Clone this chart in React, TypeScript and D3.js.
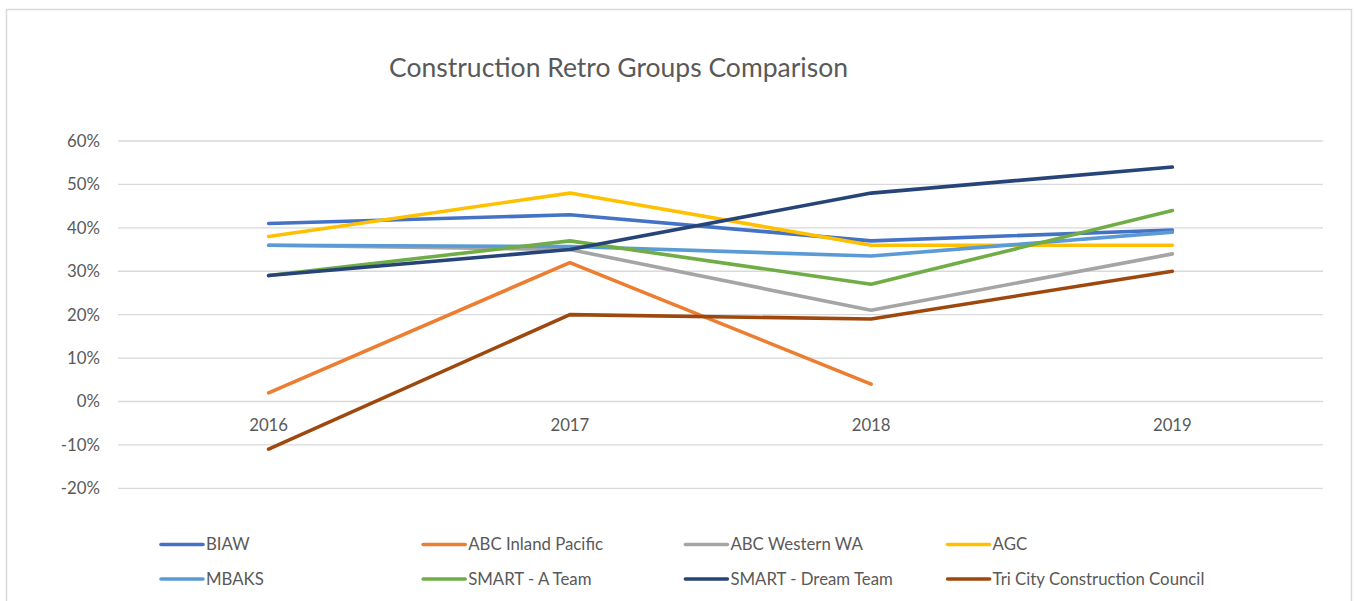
import React from "react";
import * as d3 from "d3";

const years = ["2016", "2017", "2018", "2019"];
const yTicks = [-0.2, -0.1, 0, 0.1, 0.2, 0.3, 0.4, 0.5, 0.6];

const seriesNames = [
  "BIAW",
  "ABC Inland Pacific",
  "ABC Western WA",
  "AGC",
  "MBAKS",
  "SMART - A Team",
  "SMART - Dream Team",
  "Tri City Construction Council",
];
const biaw = [0.41, 0.43, 0.37, 0.395];
const abcInland: (number | null)[] = [0.02, 0.32, 0.04, null];
const abcWestern = [0.36, 0.35, 0.21, 0.34];
const agc = [0.38, 0.48, 0.36, 0.36];
const mbaks = [0.36, 0.357, 0.335, 0.39];
const smartA = [0.29, 0.37, 0.27, 0.44];
const smartDream = [0.29, 0.35, 0.48, 0.54];
const triCity = [-0.11, 0.2, 0.19, 0.3];
const seriesValues = [biaw, abcInland, abcWestern, agc, mbaks, smartA, smartDream, triCity];
const seriesColors = ["#4472C4", "#ED7D31", "#A5A5A5", "#FFC000", "#5B9BD5", "#70AD47", "#264478", "#9E480E"];

const W = 1354;
const H = 601;
const FONT = "Lato, 'Open Sans', sans-serif";
const TEXT = "#595959";
const FS = 16.8;

export default function App() {
  const x = d3.scaleBand<string>().domain(years).range([118, 1323]);
  const y = d3.scaleLinear().domain([-0.2, 0.6]).range([488.3, 141]);
  const cx = (yr: string) => (x(yr) ?? 0) + x.bandwidth() / 2;
  const line = d3
    .line<number | null>()
    .defined((d) => d !== null)
    .x((_, i) => cx(years[i]))
    .y((d) => y(d as number));
  const fmt = d3.formatLocale({ decimal: ".", thousands: ",", grouping: [3], currency: ["$", ""], minus: "-" }).format(".0%");

  return (
    <svg width={W} height={H} style={{ position: "absolute", left: 0, top: 0, background: "#fff" }}>
      <rect x={6.5} y={9.5} width={1345} height={H} fill="#fff" stroke="#d9d9d9" strokeWidth={1.5} />
      <text x={618.5} y={77} textAnchor="middle" fontFamily={FONT} fontSize={26.5} fill={TEXT}>
        Construction Retro Groups Comparison
      </text>
      {yTicks.map((t) => (
        <g key={t}>
          <line x1={118} x2={1323} y1={y(t)} y2={y(t)} stroke="#d9d9d9" strokeWidth={1.3} />
          <text x={100} y={y(t)} dy="0.35em" textAnchor="end" fontFamily={FONT} fontSize={FS} fill={TEXT}>
            {fmt(t)}
          </text>
        </g>
      ))}
      {years.map((yr) => (
        <text key={yr} x={cx(yr)} y={y(0) + 24} dy="0.35em" textAnchor="middle" fontFamily={FONT} fontSize={FS} fill={TEXT}>
          {yr}
        </text>
      ))}
      {seriesValues.map((vals, i) => (
        <path
          key={seriesNames[i]}
          d={line(vals) ?? ""}
          fill="none"
          stroke={seriesColors[i]}
          strokeWidth={3.6}
          strokeLinecap="round"
          strokeLinejoin="round"
        />
      ))}
      {seriesNames.map((name, i) => {
        const col = i % 4;
        const row = Math.floor(i / 4);
        const lx = 161 + col * 262.2;
        const ly = 544.5 + row * 34.5;
        return (
          <g key={name}>
            <line x1={lx} x2={lx + 42} y1={ly} y2={ly} stroke={seriesColors[i]} strokeWidth={3.6} strokeLinecap="round" />
            <text x={lx + 45} y={ly} dy="0.35em" fontFamily={FONT} fontSize={FS} fill={TEXT}>
              {name}
            </text>
          </g>
        );
      })}
    </svg>
  );
}
